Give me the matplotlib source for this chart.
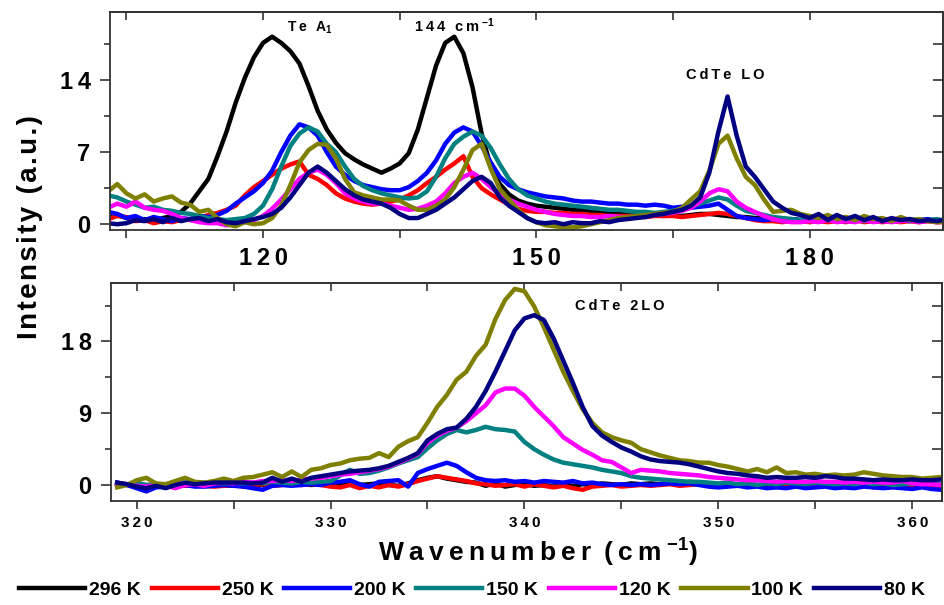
import numpy as np
import matplotlib
matplotlib.use("Agg")
import matplotlib.pyplot as plt
from matplotlib.ticker import FixedLocator, FuncFormatter, NullFormatter

plt.rcParams['font.family'] = ['Liberation Sans', 'DejaVu Sans']
plt.rcParams['font.weight'] = 'bold'
plt.rcParams['mathtext.fontset'] = 'custom'
plt.rcParams['mathtext.rm'] = 'Liberation Sans:bold'
plt.rcParams['mathtext.bf'] = 'Liberation Sans:bold'
plt.rcParams['mathtext.it'] = 'Liberation Sans:bold'
plt.rcParams['mathtext.default'] = 'rm'

# ---------------- data ----------------
temps = ['296 K', '250 K', '200 K', '150 K', '120 K', '100 K', '80 K']
colors = ['#000000', '#FF0000', '#0000FF', '#008080', '#FF00FF', '#808000', '#000080']

# low-frequency window (Te A1 / 144 cm-1 / CdTe LO), 1 cm-1 step
wn_low = np.arange(103, 196)

low_296 = [0.6, 0.9, 0.6, 0.4, 0.5, 0.3, 0.6, 0.8, 1.2, 2.0,
           3.2, 4.4, 6.6, 9.0, 11.8, 14.2, 16.2, 17.6, 18.2, 17.6,
           16.8, 15.6, 13.4, 11.0, 9.2, 7.9, 6.9, 6.3, 5.8, 5.4,
           5.0, 5.4, 5.9, 6.9, 9.2, 12.3, 15.4, 17.6, 18.2, 16.6,
           13.3, 8.8, 5.6, 3.9, 2.9, 2.3, 2.0, 1.8, 1.7, 1.6,
           1.5, 1.4, 1.4, 1.3, 1.2, 1.2, 1.1, 1.0, 1.0, 0.9,
           0.9, 0.8, 0.9, 0.8, 0.9, 1.0, 1.0, 0.9, 0.8, 0.7,
           0.7, 0.6, 0.6, 0.5, 0.5, 0.5, 0.4, 0.4, 0.5, 0.3,
           0.4, 0.5, 0.3, 0.4, 0.3, 0.5, 0.4, 0.3, 0.4, 0.3,
           0.4, 0.3, 0.3]
low_250 = [0.5, 0.8, 0.7, 0.3, 0.4, 0.1, 0.3, 0.2, 0.4, 0.5,
           0.6, 0.9, 1.1, 1.4, 1.8, 2.8, 3.6, 4.2, 4.8, 5.4,
           5.8, 6.1, 4.8, 4.4, 3.8, 3.0, 2.5, 2.2, 2.0, 1.9,
           2.0, 2.2, 2.4, 2.8, 3.3, 4.0, 4.6, 5.3, 5.9, 6.6,
           4.6, 3.5, 2.9, 2.4, 1.9, 1.5, 1.3, 1.2, 1.2, 1.1,
           1.1, 1.0, 1.0, 0.9, 0.9, 0.8, 0.8, 0.8, 0.8, 0.7,
           0.8, 0.8, 0.8, 0.7, 0.8, 0.9, 1.0, 1.1, 1.0, 0.8,
           0.6, 0.4, 0.3, 0.3, 0.2, 0.3, 0.3, 0.2, 0.3, 0.2,
           0.3, 0.2, 0.4, 0.2, 0.3, 0.2, 0.3, 0.2, 0.3, 0.2,
           0.3, 0.2, 0.2]
low_200 = [1.2, 1.0, 0.6, 0.8, 0.4, 0.7, 0.5, 0.3, 0.6, 0.5,
           0.8, 0.7, 0.9, 1.3, 2.0, 2.6, 3.2, 4.0, 5.2, 7.0,
           8.6, 9.7, 9.4, 8.6, 7.0, 5.6, 4.8, 4.2, 3.8, 3.6,
           3.4, 3.3, 3.3, 3.6, 4.2, 5.0, 6.2, 7.8, 8.9, 9.4,
           9.0, 7.6, 6.0, 4.6, 3.8, 3.4, 3.1, 2.9, 2.7, 2.6,
           2.5, 2.3, 2.2, 2.2, 2.1, 2.0, 2.0, 1.9, 1.9, 1.8,
           1.9, 1.8, 1.6, 1.7, 1.6, 1.7, 1.8, 2.0, 1.4, 0.8,
           0.6, 0.5, 0.4, 0.5, 0.3, 0.5, 0.4, 0.6, 0.3, 0.5,
           0.4, 0.3, 0.5, 0.4, 0.6, 0.3, 0.4, 0.5, 0.3, 0.4,
           0.5, 0.3, 0.4]
low_150 = [2.8, 2.6, 2.2, 1.9, 1.6, 1.7, 1.4, 1.3, 1.1, 1.0,
           0.8, 0.6, 0.5, 0.4, 0.5, 0.6, 1.0, 1.8, 3.4, 5.6,
           7.6, 8.8, 9.4, 9.0, 7.8, 7.0, 5.6, 4.4, 3.7, 3.3,
           3.0, 2.8, 2.6, 2.5, 2.6, 3.2, 4.6, 6.4, 7.8, 8.5,
           9.0, 8.6, 7.4, 5.8, 4.4, 3.4, 2.8, 2.5, 2.2, 2.0,
           1.9, 1.8, 1.7, 1.6, 1.5, 1.4, 1.4, 1.3, 1.2, 1.2,
           1.1, 1.2, 1.3, 1.5, 1.7, 2.0, 2.3, 2.6, 2.4, 1.8,
           1.3, 1.1, 0.9, 0.7, 0.6, 0.5, 0.4, 0.6, 0.4, 0.5,
           0.3, 0.5, 0.4, 0.3, 0.5, 0.4, 0.3, 0.4, 0.5, 0.3,
           0.4, 0.5, 0.3]
low_120 = [1.6, 2.0, 1.7, 2.2, 1.6, 1.4, 1.3, 1.0, 0.6, 0.4,
           0.2, 0.1, 0.1, -0.1, 0.0, 0.2, 0.4, 0.8, 1.5, 2.4,
           3.4, 4.4, 5.0, 5.3, 4.8, 4.0, 3.0, 2.5, 2.2, 2.0,
           2.0, 1.8, 1.6, 1.4, 1.5, 1.8, 2.2, 3.0, 4.0, 4.6,
           5.0, 4.4, 3.6, 2.9, 2.4, 2.0, 1.7, 1.4, 1.2, 1.0,
           0.9, 0.8, 0.8, 0.7, 0.7, 0.8, 0.7, 0.7, 0.7, 0.8,
           0.9, 1.0, 1.1, 1.3, 1.6, 2.2, 3.0, 3.4, 3.2, 2.2,
           1.6, 1.2, 0.8, 0.5, 0.3, 0.2, 0.2, 0.3, 0.2, 0.4,
           0.2, 0.3, 0.2, 0.4, 0.2, 0.3, 0.2, 0.3, 0.4, 0.2,
           0.3, 0.2, 0.3]
low_100 = [3.2, 3.9, 3.0, 2.5, 2.9, 2.2, 2.5, 2.7, 2.1, 1.9,
           1.2, 1.4, 0.6, 0.0, -0.2, 0.2, 0.0, 0.1, 0.6, 1.8,
           3.8, 6.0, 7.2, 7.8, 7.7, 6.4, 4.4, 3.1, 2.8, 2.6,
           2.4, 2.4, 2.3, 1.8, 1.4, 1.4, 1.8, 2.4, 3.6, 5.3,
           7.2, 7.8, 5.4, 3.4, 2.4, 1.4, 0.6, 0.2, -0.1, -0.2,
           -0.3, -0.3, -0.2, 0.0, 0.2, 0.4, 0.6, 0.7, 0.8, 0.9,
           1.0, 1.1, 1.2, 1.6, 2.4, 3.2, 5.2, 7.8, 8.6, 6.4,
           4.6, 3.8, 2.4, 1.2, 1.3, 1.4, 1.0, 0.8, 0.6, 0.9,
           0.5, 0.7, 0.4, 0.8, 0.5, 0.6, 0.3, 0.7, 0.4, 0.5,
           0.3, 0.2, 0.3]
low_80 = [0.1, 0.0, 0.1, 0.4, 0.3, 0.5, 0.2, 0.6, 0.3, 0.5,
          0.6, 0.3, 0.5, 0.2, 0.1, 0.3, 0.5, 0.7, 1.0, 1.6,
          2.6, 3.8, 5.0, 5.6, 5.0, 4.2, 3.4, 2.8, 2.4, 2.2,
          2.0, 1.6, 1.0, 0.6, 0.6, 1.0, 1.4, 2.0, 2.6, 3.4,
          4.2, 4.6, 4.0, 2.6, 1.8, 1.2, 0.6, 0.2, 0.1, 0.2,
          0.0, 0.2, 0.1, 0.1, 0.3, 0.2, 0.4, 0.5, 0.6, 0.7,
          0.9, 1.0, 1.2, 1.4, 1.8, 2.6, 5.0, 9.0, 12.4, 8.6,
          5.6, 4.6, 3.4, 2.2, 1.6, 1.1, 0.9, 0.6, 1.0, 0.4,
          0.9, 0.5, 0.8, 0.4, 0.7, 0.3, 0.6, 0.4, 0.5, 0.3,
          0.4, 0.3, 0.5]

# high-frequency window (CdTe 2LO), 0.5 cm-1 step
wn_high = np.arange(319.0, 362.0, 0.5)

high_296 = [0.2, 0.1, 0.0, -0.1, 0.0, 0.1, 0.0, 0.1, -0.1, 0.0,
            0.1, 0.0, -0.1, 0.0, 0.1, 0.0, 0.1, 0.2, 0.0, 0.1,
            0.0, 0.1, 0.2, 0.1, 0.2, 0.0, 0.1, 0.2, 0.0, -0.1,
            0.2, 0.6, 0.9, 1.1, 0.8, 0.6, 0.4, 0.3, -0.1, 0.2,
            -0.2, 0.0, 0.1, -0.1, 0.0, -0.2, 0.0, -0.1, 0.1, 0.0,
            0.2, 0.1, 0.0, 0.2, 0.1, 0.2, 0.1, 0.3, 0.2, 0.4,
            0.3, 0.2, 0.1, 0.2, 0.0, 0.1, 0.0, -0.1, 0.0, 0.1,
            0.0, -0.1, 0.0, 0.1, -0.1, 0.0, 0.1, -0.1, 0.0, -0.1,
            0.0, -0.2, -0.1, 0.0, -0.1, -0.2]
high_250 = [0.1, 0.0, -0.1, 0.0, -0.2, 0.1, 0.0, -0.1, 0.0, -0.1,
            -0.2, -0.1, 0.0, -0.2, 0.0, 0.1, -0.1, 0.0, 0.1, 0.0,
            0.1, 0.0, -0.2, -0.3, 0.0, -0.4, -0.1, -0.3, 0.0, -0.2,
            0.1, 0.5, 0.8, 1.1, 0.9, 0.7, 0.5, 0.2, 0.1, -0.1,
            0.0, 0.1, -0.2, 0.1, -0.1, -0.3, -0.1, -0.4, -0.6, -0.2,
            -0.1, 0.0, -0.2, -0.1, 0.0, -0.1, 0.0, 0.1, -0.1, 0.0,
            0.1, 0.0, 0.1, -0.1, 0.0, 0.1, -0.1, 0.0, -0.2, 0.0,
            -0.1, 0.0, -0.2, -0.1, 0.0, -0.2, -0.1, 0.0, -0.3, -0.1,
            -0.2, -0.1, -0.3, -0.1, -0.2, -0.3]
high_200 = [0.3, 0.0, -0.4, -0.8, -0.3, -0.2, -0.1, 0.0, -0.2, -0.2,
            -0.1, 0.0, -0.1, -0.2, -0.4, -0.6, -0.1, 0.0, -0.1, 0.0,
            0.1, 0.0, 0.3, 0.4, 0.6, 0.1, -0.2, 0.4, 0.5, 0.6,
            -0.2, 1.5, 2.0, 2.4, 2.8, 2.4, 1.6, 0.9, 0.6, 0.5,
            0.6, 0.4, 0.5, 0.3, 0.5, 0.4, 0.3, 0.5, 0.2, 0.3,
            0.1, 0.0, 0.1, 0.0, 0.1, 0.0, 0.1, 0.2, 0.1, 0.2,
            0.0, -0.2, -0.3, -0.2, -0.1, -0.3, -0.2, -0.4, -0.3, -0.4,
            -0.2, -0.4, -0.3, -0.2, -0.4, -0.3, -0.4, -0.2, -0.3, -0.4,
            -0.3, -0.4, -0.5, -0.3, -0.5, -0.6]
high_150 = [0.2, 0.0, 0.3, 0.0, 0.1, 0.0, 0.1, 0.0, 0.2, 0.3,
            0.3, 0.2, 0.3, 0.2, 0.3, 0.2, 0.4, 0.3, 0.2, 0.4,
            0.3, 0.4, 0.5, 1.2, 1.9, 1.4, 1.5, 1.8, 2.2, 2.7,
            3.1, 3.5, 4.6, 5.6, 6.4, 6.9, 6.6, 6.9, 7.3, 7.0,
            6.9, 6.7, 5.4, 4.5, 3.8, 3.2, 2.8, 2.6, 2.4, 2.2,
            1.9, 1.7, 1.5, 1.1, 0.9, 0.8, 0.7, 0.6, 0.5, 0.4,
            0.4, 0.3, 0.2, 0.3, 0.1, 0.2, 0.0, 0.2, 0.1, 0.3,
            0.2, 0.1, 0.3, 0.2, 0.1, 0.2, 0.1, 0.3, 0.1, 0.2,
            0.0, 0.1, 0.2, 0.1, 0.2, 0.1]
high_120 = [0.2, 0.1, -0.1, -0.2, 0.0, -0.1, -0.4, 0.0, 0.1, -0.1,
            0.2, 0.3, 0.2, 0.4, 0.3, 0.5, 0.5, 0.6, 0.5, 0.7,
            0.8, 0.9, 1.1, 1.3, 1.4, 1.6, 1.8, 2.0, 2.3, 2.8,
            3.3, 3.9, 5.3, 6.2, 6.8, 7.2, 8.0, 9.0, 10.0, 11.6,
            12.1, 12.1, 11.2, 9.8, 8.6, 7.4, 6.0, 5.2, 4.4, 3.8,
            3.1, 2.9, 2.2, 1.5, 1.9, 1.8, 1.7, 1.5, 1.4, 1.3,
            1.2, 1.0, 0.9, 0.8, 0.7, 0.6, 0.6, 0.5, 0.4, 0.5,
            0.4, 0.4, 0.5, 0.4, 0.4, 0.3, 0.4, 0.3, 0.4, 0.3,
            0.3, 0.5, 0.2, 0.1, 0.1, 0.0]
high_100 = [-0.3, 0.0, 0.6, 0.9, 0.2, 0.1, 0.5, 0.9, 0.4, 0.3,
            0.5, 0.8, 0.5, 0.9, 1.0, 1.3, 1.6, 1.0, 1.7, 1.0,
            1.9, 2.1, 2.5, 2.7, 3.1, 3.3, 3.4, 4.0, 3.5, 4.8,
            5.5, 6.0, 7.8, 9.8, 11.3, 13.2, 14.2, 16.2, 17.6, 20.8,
            23.2, 24.6, 24.3, 22.4, 19.8, 17.0, 14.2, 11.8, 9.5, 7.8,
            6.6, 6.0, 5.6, 5.3, 4.5, 4.1, 3.7, 3.4, 3.1, 3.0,
            2.8, 2.8, 2.5, 2.3, 2.0, 1.7, 2.0, 1.6, 2.2, 1.5,
            1.6, 1.3, 1.4, 1.2, 1.3, 1.2, 1.3, 1.6, 1.4, 1.2,
            1.1, 1.0, 1.0, 0.8, 0.9, 1.0]
high_80 = [0.3, 0.1, -0.2, -0.4, -0.1, -0.4, 0.0, 0.3, 0.1, 0.2,
           0.3, 0.3, 0.3, 0.3, 0.2, 0.3, 0.9, 0.4, 0.8, 0.4,
           0.9, 1.1, 1.3, 1.5, 1.7, 1.8, 1.9, 2.1, 2.4, 2.9,
           3.4, 4.0, 5.6, 6.4, 7.0, 7.2, 8.3, 9.8, 11.8, 14.2,
           16.8, 19.4, 20.9, 21.3, 20.7, 18.4, 15.6, 12.8, 9.8, 7.4,
           6.2, 5.4, 4.7, 4.2, 3.6, 3.2, 3.0, 2.9, 2.8, 2.6,
           2.3, 2.0, 1.7, 1.5, 1.4, 1.2, 1.1, 0.9, 1.0, 0.9,
           0.9, 1.0, 0.9, 1.1, 1.0, 0.8, 0.8, 0.7, 0.6, 0.7,
           0.6, 0.6, 0.7, 0.6, 0.6, 0.7]

low_series = [low_296, low_250, low_200, low_150, low_120, low_100, low_80]
high_series = [high_296, high_250, high_200, high_150, high_120, high_100, high_80]

THIN = '\u2009'
HAIR = '\u200a'


def spaced(text, sep=THIN):
    return sep.join(text)


# ---------------- figure ----------------
W, H = 944, 605
fig = plt.figure(figsize=(W / 100, H / 100), dpi=100)
ax1 = fig.add_axes([110 / W, 1 - 230 / H, 832.5 / W, 218 / H])
ax2 = fig.add_axes([111 / W, 1 - 500.7 / H, 831 / W, 217.4 / H])

LW = 3.2
frame_color = '#333333'

for ys, c, lab in zip(low_series, colors, temps):
    ax1.plot(wn_low, ys, color=c, lw=LW, label=lab, solid_joinstyle='round')
for ys, c in zip(high_series, colors):
    ax2.plot(wn_high, ys, color=c, lw=LW, solid_joinstyle='round')

ax1.set_xlim(103.2, 194.6)
ax1.set_ylim(-0.56, 20.6)
ax2.set_xlim(318.68, 361.53)
ax2.set_ylim(-1.97, 25.3)

tick_fmt_big = FuncFormatter(lambda v, p: spaced(f'{v:g}'))

for ax in (ax1, ax2):
    for s in ax.spines.values():
        s.set_color(frame_color)
        s.set_linewidth(1.3)

# top panel ticks
ax1.xaxis.set_major_locator(FixedLocator([120, 150, 180]))
ax1.xaxis.set_minor_locator(FixedLocator([105, 135, 165]))
ax1.yaxis.set_major_locator(FixedLocator([0, 7, 14]))
ax1.yaxis.set_minor_locator(FixedLocator([3.5, 10.5, 17.5]))
ax1.xaxis.set_major_formatter(tick_fmt_big)
ax1.yaxis.set_major_formatter(tick_fmt_big)
ax1.tick_params(axis='x', which='both', direction='out', length=6, width=1.2,
                color=frame_color, labelsize=17, pad=6)
ax1.tick_params(axis='y', which='major', direction='out', length=7, width=1.2,
                color=frame_color, labelsize=17, pad=7)
ax1.tick_params(axis='y', which='minor', direction='out', length=4, width=1.2,
                color=frame_color)

# bottom panel ticks
ax2.xaxis.set_major_locator(FixedLocator([320, 330, 340, 350, 360]))
ax2.xaxis.set_minor_locator(FixedLocator([325, 335, 345, 355]))
ax2.yaxis.set_major_locator(FixedLocator([0, 9, 18]))
ax2.yaxis.set_minor_locator(FixedLocator([4.5, 13.5, 22.5]))
ax2.xaxis.set_major_formatter(FuncFormatter(lambda v, p: spaced(f'{v:g}')))
ax2.yaxis.set_major_formatter(tick_fmt_big)
ax2.tick_params(axis='x', which='both', direction='out', length=6, width=1.2,
                color=frame_color, labelsize=11, pad=5)
ax2.tick_params(axis='y', which='major', direction='out', length=7, width=1.2,
                color=frame_color, labelsize=17, pad=7)
ax2.tick_params(axis='y', which='minor', direction='out', length=4, width=1.2,
                color=frame_color)

# mirrored inward ticks on top and right
for ax, xt, yt in ((ax1, [105, 120, 135, 150, 165, 180], [3.5, 7, 10.5, 14, 17.5]),
                   (ax2, [320, 325, 330, 335, 340, 345, 350, 355, 360],
                    [4.5, 9, 13.5, 18, 22.5])):
    top = ax.secondary_xaxis('top')
    top.set_xticks(xt)
    top.xaxis.set_major_formatter(NullFormatter())
    top.tick_params(direction='in', length=6, width=1.2, color=frame_color)
    right = ax.secondary_yaxis('right')
    right.set_yticks(yt)
    right.yaxis.set_major_formatter(NullFormatter())
    right.tick_params(direction='in', length=7, width=1.2, color=frame_color)
    for sec in (top, right):
        for s in sec.spines.values():
            s.set_color(frame_color)
            s.set_linewidth(1.3)

# peak labels
ax1.text(122.6, 19.1, spaced('Te A') + '$_1$', fontsize=10, ha='left', va='center')
ax1.text(136.6, 19.3, spaced('144 cm') + THIN + '$^{-1}$', fontsize=10.5,
         ha='left', va='center')
ax1.text(166.4, 14.5, spaced('CdTe LO'), fontsize=10.5, ha='left', va='center')
ax2.text(342.6, 22.4, spaced('CdTe 2LO'), fontsize=10.5, ha='left', va='center')

# axis titles
fig.text(30 / W, 1 - 227 / H, spaced('Intensity (a.u.)', HAIR), rotation=90,
         fontsize=20, ha='center', va='center')
fig.text(538 / W, 1 - 553 / H,
         spaced('Wavenumber') + THIN + ' ' + spaced('(cm') + THIN + r'$^{\mathregular{-1}}$)',
         fontsize=19, ha='center', va='center')

# legend along the bottom edge
handles, labels = ax1.get_legend_handles_labels()
fig.legend(handles, labels, loc='center', bbox_to_anchor=(0.5, 1 - 590 / H),
           ncol=7, frameon=False, handlelength=3.4, handletextpad=0.2,
           columnspacing=0.55, fontsize=14, borderpad=0, borderaxespad=0)

fig.savefig('out.png', dpi=100)
